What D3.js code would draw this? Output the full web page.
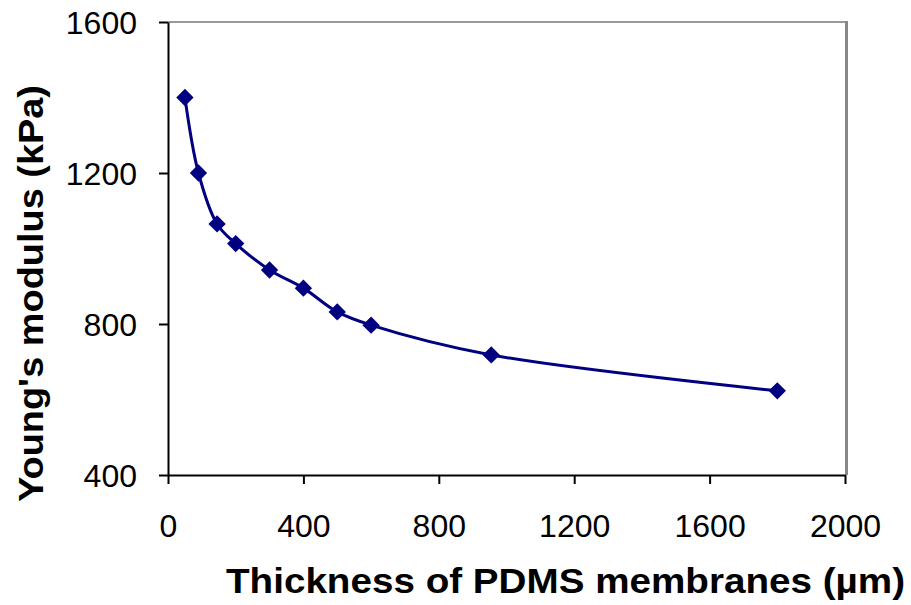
<!DOCTYPE html>
<html>
<head>
<meta charset="utf-8">
<script src="https://cdn.jsdelivr.net/npm/d3@7/dist/d3.min.js"></script>
<style>
  html, body { margin: 0; padding: 0; background: #fff; }
  svg { display: block; }
  text { font-family: "Liberation Sans", Arial, sans-serif; fill: #000; }
</style>
</head>
<body>
<svg id="chart" width="911" height="605"></svg>
<script>
// ---- data ----
const thickness = [50, 90, 145, 200, 300, 400, 500, 600, 955, 1800];
const modulus   = [1400, 1200, 1065, 1013, 943, 895, 832, 797, 718, 623];
const xTicks = [0, 400, 800, 1200, 1600, 2000];
const yTicks = [400, 800, 1200, 1600];
const xTitle = "Thickness of PDMS membranes (\u00B5m)";
const yTitle = "Young's modulus (kPa)";

const svg = d3.select("#chart");
const L = 168, R = 845, T = 22, B = 475;

const x = d3.scaleLinear().domain([0, 2000]).range([L, R]);
const y = d3.scaleLinear().domain([400, 1600]).range([B, T]);

// frame: top and right in gray
svg.append("line").attr("x1", L).attr("x2", R + 2).attr("y1", T).attr("y2", T)
  .attr("stroke", "#999").attr("stroke-width", 2);
svg.append("line").attr("x1", R + 1.5).attr("x2", R + 1.5).attr("y1", T - 1).attr("y2", B)
  .attr("stroke", "#888").attr("stroke-width", 3);

// axes
const fmt = d3.format("d");
const xAxis = d3.axisBottom(x).tickValues(xTicks).tickFormat(fmt).tickSize(9).tickPadding(30).tickSizeOuter(0);
const yAxis = d3.axisLeft(y).tickValues(yTicks).tickFormat(fmt).tickSize(9).tickPadding(22).tickSizeOuter(0);

const gx = svg.append("g").attr("transform", `translate(0,${B})`).call(xAxis);
const gy = svg.append("g").attr("transform", `translate(${L},0)`).call(yAxis);
[gx, gy].forEach(g => {
  g.select(".domain").attr("stroke", "#000").attr("stroke-width", 2);
  g.selectAll(".tick line").attr("stroke", "#000").attr("stroke-width", 2);
  g.selectAll(".tick text").attr("fill", "#000")
    .style("font-family", "'Liberation Sans', Arial, sans-serif")
    .style("font-size", "32px");
});
gy.selectAll(".tick text").attr("dy", "0.36em");
gx.selectAll(".tick text").attr("dy", "0.71em");

// line
const line = d3.line()
  .x((d, i) => x(thickness[i]))
  .y(d => y(d))
  .curve(d3.curveCatmullRom.alpha(0.5));
svg.append("path").datum(modulus)
  .attr("d", line)
  .attr("fill", "none")
  .attr("stroke", "#000080")
  .attr("stroke-width", 3);

// markers
const sym = d3.symbol().type(d3.symbolSquare).size(150);
svg.append("g").selectAll("path").data(modulus).join("path")
  .attr("d", sym)
  .attr("transform", (d, i) => `translate(${x(thickness[i])},${y(d)}) rotate(45)`)
  .attr("fill", "#000080");

// titles
svg.append("text")
  .attr("x", 226).attr("y", 593)
  .attr("textLength", 679).attr("lengthAdjust", "spacingAndGlyphs")
  .style("font-size", "35px").style("font-weight", "bold")
  .text(xTitle);

svg.append("text")
  .attr("transform", "translate(43,502) rotate(-90)")
  .attr("x", 0).attr("y", 0)
  .attr("textLength", 417).attr("lengthAdjust", "spacingAndGlyphs")
  .style("font-size", "35px").style("font-weight", "bold")
  .text(yTitle);
</script>
</body>
</html>
